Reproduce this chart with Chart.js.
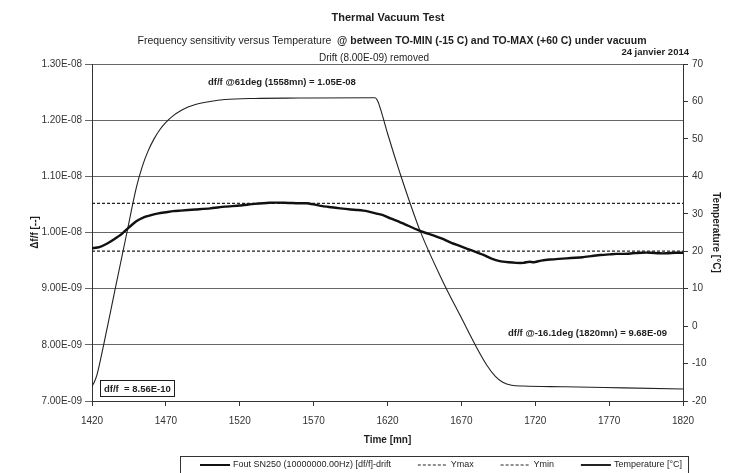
<!DOCTYPE html>
<html>
<head>
<meta charset="utf-8">
<script src="https://cdn.jsdelivr.net/npm/chart.js@4.4.1/dist/chart.umd.min.js"></script>
<style>
  html, body { margin: 0; padding: 0; background: #fff; }
</style>
</head>
<body>
<canvas id="tvChart" width="734" height="473"></canvas>
<script>
// Fout SN250 drift-removed df/f
const dfTime = [1420, 1425, 1430, 1435, 1440, 1445, 1450, 1455, 1460, 1465, 1470, 1475, 1480, 1490,
    1500, 1510, 1520, 1530, 1540, 1550, 1560, 1565, 1570, 1576, 1582, 1588, 1595, 1600, 1606, 1612,
    1617, 1622, 1628, 1634, 1640, 1645, 1651, 1657, 1662, 1668, 1674, 1680, 1685, 1690, 1696, 1702,
    1707, 1712, 1716, 1719, 1724, 1730, 1736, 1741, 1747, 1752, 1758, 1764, 1770, 1775, 1780, 1786,
    1792, 1798, 1804, 1809, 1815, 1820];
const dfValues = [9.72e-9, 9.74e-9, 9.80e-9, 9.88e-9, 9.97e-9, 10.09e-9, 10.20e-9, 10.27e-9, 10.31e-9,
    10.34e-9, 10.36e-9, 10.38e-9, 10.39e-9, 10.41e-9, 10.43e-9, 10.46e-9, 10.48e-9, 10.51e-9, 10.53e-9,
    10.53e-9, 10.52e-9, 10.52e-9, 10.50e-9, 10.47e-9, 10.45e-9, 10.43e-9, 10.41e-9, 10.40e-9, 10.38e-9,
    10.34e-9, 10.31e-9, 10.25e-9, 10.19e-9, 10.12e-9, 10.05e-9, 10.00e-9, 9.95e-9, 9.89e-9, 9.83e-9,
    9.77e-9, 9.71e-9, 9.65e-9, 9.60e-9, 9.54e-9, 9.49e-9, 9.47e-9, 9.46e-9, 9.46e-9, 9.48e-9, 9.47e-9,
    9.50e-9, 9.52e-9, 9.53e-9, 9.54e-9, 9.55e-9, 9.56e-9, 9.58e-9, 9.60e-9, 9.61e-9, 9.62e-9, 9.62e-9,
    9.63e-9, 9.64e-9, 9.64e-9, 9.63e-9, 9.63e-9, 9.64e-9, 9.64e-9];

// Temperature [°C]
const tempTime = [1420, 1421.5, 1423.5, 1428, 1435, 1443, 1450, 1454, 1458, 1462, 1466, 1470, 1475,
    1480, 1485, 1490, 1500, 1510, 1530, 1560, 1611.5, 1613.5, 1616, 1620, 1628.5, 1642, 1657.6, 1670,
    1680, 1687, 1693, 1698, 1704, 1712, 1740, 1780, 1820];
const tempValues = [-16.0, -15.0, -12.8, -4.8, 8.6, 23.8, 37.0, 42.6, 46.8, 50.0, 52.5, 54.4, 56.2,
    57.5, 58.5, 59.2, 60.0, 60.5, 60.8, 60.9, 61.0, 60.0, 57.0, 51.5, 40.8, 25.5, 11.8, 2.2,
    -5.5, -10.3, -13.4, -15.0, -15.8, -16.0, -16.2, -16.5, -16.8];

// limit lines
const limitTime = [1420, 1820];
const yMaxValues = [1.052e-8, 1.052e-8];
const yMinValues = [9.67e-9, 9.67e-9];

const seriesLabels = ['Fout SN250 (10000000.00Hz) [df/f]-drift', 'Ymax', 'Ymin', 'Temperature [°C]'];

const xTicks = { min: 1420, max: 1820, step: 50 };
const yTicks = { min: 7e-9, max: 1.3e-8, step: 1e-9 };
const tTicks = { min: -20, max: 70, step: 10 };

const FONT = '"Liberation Sans", Arial, sans-serif';
const INK = '#1e1e1e';

const toXY = (xs, ys) => xs.map((x, i) => ({ x: x, y: ys[i] }));

// 1.30E-08 style labels
const sciLabel = (v) => {
    const [m, e] = Number(v).toExponential(2).toUpperCase().split('E');
    const n = parseInt(e, 10);
    return m + 'E' + (n < 0 ? '-' : '+') + String(Math.abs(n)).padStart(2, '0');
};

// titles, annotations and the boxed legend are drawn on top
const textPlugin = {
    id: 'tvTexts',
    afterDraw(chart) {
        const ctx = chart.ctx;
        ctx.save();
        ctx.fillStyle = INK;
        ctx.textBaseline = 'middle';

        ctx.textAlign = 'center';
        ctx.font = 'bold 11px ' + FONT;
        ctx.fillText('Thermal Vacuum Test', 388, 18);

        // subtitle: plain part + bold part
        const sub1 = 'Frequency sensitivity versus Temperature  ';
        const sub2 = '@ between TO-MIN (-15 C) and TO-MAX (+60 C) under vacuum';
        ctx.font = '10.5px ' + FONT;
        const w1 = ctx.measureText(sub1).width;
        ctx.font = 'bold 10.5px ' + FONT;
        const w2 = ctx.measureText(sub2).width;
        const sx = 392 - (w1 + w2) / 2;
        ctx.textAlign = 'left';
        ctx.font = '10.5px ' + FONT;
        ctx.fillText(sub1, sx, 41);
        ctx.font = 'bold 10.5px ' + FONT;
        ctx.fillText(sub2, sx + w1, 41);

        ctx.textAlign = 'center';
        ctx.font = '10px ' + FONT;
        ctx.fillText('Drift (8.00E-09) removed', 374, 58);

        ctx.textAlign = 'right';
        ctx.font = 'bold 9.5px ' + FONT;
        ctx.fillText('24 janvier 2014', 689, 52);

        ctx.textAlign = 'left';
        ctx.font = 'bold 9.5px ' + FONT;
        ctx.fillText('df/f @61deg (1558mn) = 1.05E-08', 208, 82);
        ctx.fillText('df/f @-16.1deg (1820mn) = 9.68E-09', 508, 333);

        // boxed peak-to-peak value
        ctx.strokeStyle = INK;
        ctx.lineWidth = 1;
        ctx.strokeRect(100.5, 380.5, 74, 16);
        ctx.font = 'bold 9.5px ' + FONT;
        ctx.fillText('df/f  = 8.56E-10', 104, 389);

        // legend box, items spread between 200 and 682
        ctx.strokeStyle = '#333';
        ctx.strokeRect(180.5, 456.5, 508, 30);
        const ds = chart.data.datasets;
        ctx.font = '9px ' + FONT;
        const sample = 30, gapText = 3;
        const widths = ds.map(d => sample + gapText + ctx.measureText(d.label).width);
        const total = widths.reduce((a, b) => a + b, 0);
        const gap = (682 - 200 - total) / (ds.length - 1);
        let x = 200;
        ds.forEach((d, i) => {
            ctx.save();
            ctx.strokeStyle = d.borderColor;
            ctx.lineWidth = i === 0 || i === 3 ? 2 : 1.2;
            ctx.setLineDash(d.borderDash || []);
            ctx.beginPath();
            ctx.moveTo(x, 465);
            ctx.lineTo(x + sample, 465);
            ctx.stroke();
            ctx.restore();
            ctx.fillText(d.label, x + sample + gapText, 465);
            x += widths[i] + gap;
        });
        ctx.restore();
    }
};

const chartConfig = {
    type: 'line',
    data: {
        datasets: [
            {
                label: seriesLabels[0],
                data: toXY(dfTime, dfValues),
                borderColor: '#111',
                borderWidth: 2.4,
                pointRadius: 0,
                tension: 0.2,
                yAxisID: 'y'
            },
            {
                label: seriesLabels[1],
                data: toXY(limitTime, yMaxValues),
                borderColor: '#222',
                borderWidth: 1.2,
                borderDash: [3, 2],
                pointRadius: 0,
                yAxisID: 'y'
            },
            {
                label: seriesLabels[2],
                data: toXY(limitTime, yMinValues),
                borderColor: '#222',
                borderWidth: 1.2,
                borderDash: [3, 2],
                pointRadius: 0,
                yAxisID: 'y'
            },
            {
                label: seriesLabels[3],
                data: toXY(tempTime, tempValues),
                borderColor: '#222',
                borderWidth: 1.1,
                pointRadius: 0,
                cubicInterpolationMode: 'monotone',
                yAxisID: 'yT'
            }
        ]
    },
    options: {
        responsive: false,
        animation: false,
        devicePixelRatio: 1,
        layout: { padding: { top: 64, left: 0, right: 0, bottom: 25 } },
        plugins: {
            legend: { display: false },
            tooltip: { enabled: false }
        },
        scales: {
            x: {
                type: 'linear',
                min: xTicks.min,
                max: xTicks.max,
                afterFit: (s) => { s.height = 47; },
                border: { color: '#333', width: 1 },
                grid: { drawOnChartArea: false, tickLength: 5, color: '#333' },
                ticks: {
                    stepSize: xTicks.step,
                    padding: 9,
                    color: '#333',
                    font: { family: FONT, size: 10 },
                    callback: (v) => String(v)
                },
                title: {
                    display: true,
                    text: 'Time [mn]',
                    color: INK,
                    font: { family: FONT, size: 10, weight: 'bold' },
                    padding: { top: 2, bottom: 2 }
                }
            },
            y: {
                type: 'linear',
                position: 'left',
                min: yTicks.min,
                max: yTicks.max,
                afterFit: (s) => { s.width = 92; },
                border: { color: '#333', width: 1 },
                grid: { color: '#666', tickLength: 7, lineWidth: 1 },
                ticks: {
                    stepSize: yTicks.step,
                    padding: 3,
                    color: '#333',
                    font: { family: FONT, size: 10 },
                    callback: (v) => sciLabel(v)
                },
                title: {
                    display: true,
                    text: 'Δf/f [--]',
                    color: INK,
                    font: { family: FONT, size: 10, weight: 'bold' },
                    padding: { top: 29, bottom: 0 }
                }
            },
            yT: {
                type: 'linear',
                position: 'right',
                min: tTicks.min,
                max: tTicks.max,
                afterFit: (s) => { s.width = 51; },
                border: { color: '#333', width: 1 },
                grid: { drawOnChartArea: false, tickLength: 5, color: '#333' },
                ticks: {
                    stepSize: tTicks.step,
                    padding: 4,
                    color: '#333',
                    font: { family: FONT, size: 10 },
                    callback: (v) => String(v)
                },
                title: {
                    display: true,
                    text: 'Temperature [°C]',
                    color: INK,
                    font: { family: FONT, size: 10, weight: 'bold' },
                    padding: { top: 12, bottom: 0 }
                }
            }
        }
    },
    plugins: [textPlugin]
};

const ctx = document.getElementById('tvChart').getContext('2d');
const tvChart = new Chart(ctx, chartConfig);
</script>
</body>
</html>
